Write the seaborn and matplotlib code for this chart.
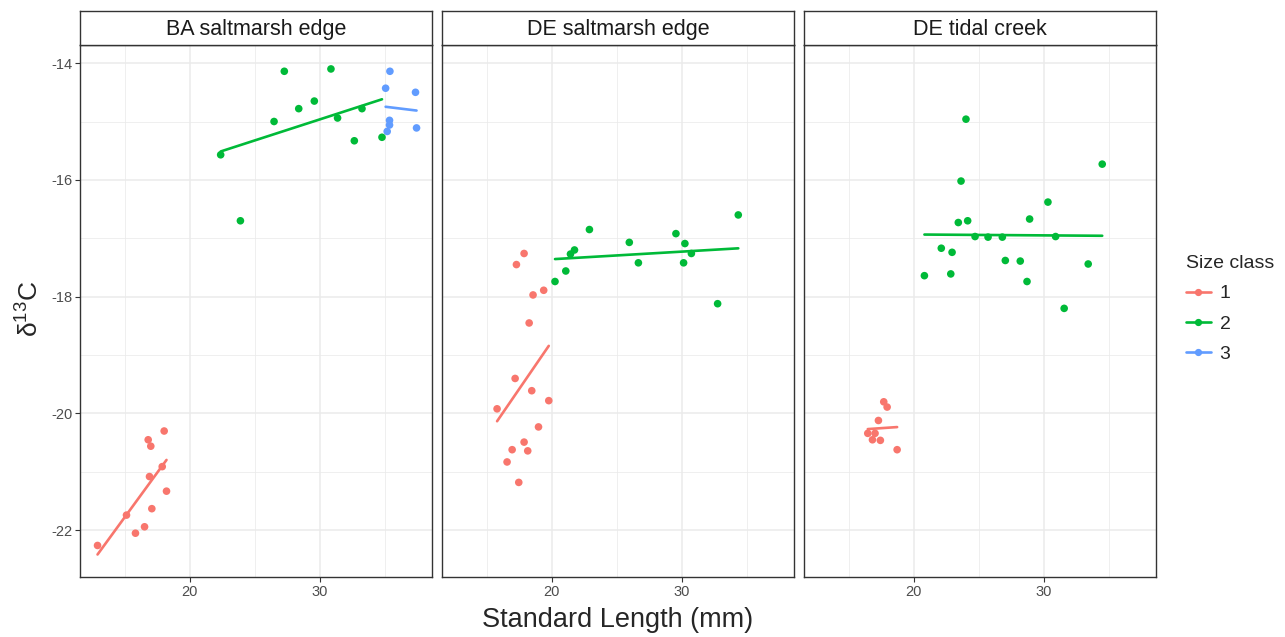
import matplotlib
matplotlib.use("Agg")
import numpy as np
import pandas as pd
import seaborn as sns
import matplotlib.pyplot as plt
from matplotlib.lines import Line2D

# Standard length (mm) and d13C by site and size class
ba_len_1 = [12.9, 15.13, 15.82, 16.52, 16.8, 17.0, 16.9, 17.08, 18.03, 17.88, 18.21]
ba_d13c_1 = [-22.26, -21.74, -22.05, -21.94, -20.45, -20.56, -21.08, -21.63, -20.30, -20.91, -21.33]
ba_len_2 = [22.38, 23.9, 26.49, 27.28, 28.39, 29.59, 30.87, 31.38, 32.67, 33.26, 34.8]
ba_d13c_2 = [-15.57, -16.70, -15.00, -14.14, -14.78, -14.65, -14.10, -14.94, -15.33, -14.78, -15.27]
ba_len_3 = [35.41, 35.08, 37.38, 35.38, 35.38, 35.2, 37.46]
ba_d13c_3 = [-14.14, -14.43, -14.50, -14.98, -15.06, -15.17, -15.11]

des_len_1 = [17.87, 17.28, 19.38, 18.56, 18.26, 17.18, 18.46, 19.77, 15.79, 18.98, 17.87, 16.95, 18.15, 16.56, 17.46]
des_d13c_1 = [-17.26, -17.45, -17.89, -17.97, -18.45, -19.40, -19.61, -19.78, -19.92, -20.23, -20.49, -20.62, -20.64, -20.83, -21.18]
des_len_2 = [22.9, 21.75, 21.44, 21.08, 20.25, 25.97, 26.67, 29.56, 30.25, 30.75, 30.15, 34.36, 32.77]
des_d13c_2 = [-16.85, -17.20, -17.27, -17.56, -17.74, -17.07, -17.42, -16.92, -17.09, -17.26, -17.42, -16.60, -18.12]

dtc_len_1 = [17.69, 17.95, 17.28, 16.46, 17.02, 16.82, 17.43, 18.72]
dtc_d13c_1 = [-19.80, -19.89, -20.12, -20.34, -20.34, -20.45, -20.46, -20.62]
dtc_len_2 = [24.02, 23.64, 34.51, 30.33, 28.92, 23.43, 24.15, 24.72, 25.72, 26.82, 30.92,
             22.12, 22.95, 27.05, 28.2, 33.43, 20.82, 22.85, 28.72, 31.58]
dtc_d13c_2 = [-14.96, -16.02, -15.73, -16.38, -16.67, -16.73, -16.70, -16.97, -16.98, -16.98, -16.97,
              -17.17, -17.24, -17.38, -17.39, -17.44, -17.64, -17.61, -17.74, -18.20]

sites = ["BA saltmarsh edge", "DE saltmarsh edge", "DE tidal creek"]
size_classes = ["1", "2", "3"]
palette = {"1": "#F8766D", "2": "#00BA38", "3": "#619CFF"}

groups = [
    (sites[0], "1", ba_len_1, ba_d13c_1),
    (sites[0], "2", ba_len_2, ba_d13c_2),
    (sites[0], "3", ba_len_3, ba_d13c_3),
    (sites[1], "1", des_len_1, des_d13c_1),
    (sites[1], "2", des_len_2, des_d13c_2),
    (sites[2], "1", dtc_len_1, dtc_d13c_1),
    (sites[2], "2", dtc_len_2, dtc_d13c_2),
]
df = pd.concat(
    [pd.DataFrame({"site": s, "size_class": c, "length": x, "d13c": y}) for s, c, x, y in groups],
    ignore_index=True,
)

sns.set_theme(style="white")
plt.rcParams["font.family"] = ["Liberation Sans", "DejaVu Sans"]
plt.rcParams["axes.unicode_minus"] = False
plt.rcParams["mathtext.fontset"] = "custom"
plt.rcParams["mathtext.rm"] = "Liberation Sans"
plt.rcParams["mathtext.it"] = "Liberation Sans:italic"

W, H = 1285, 637
fig = plt.figure(figsize=(W / 100, H / 100), dpi=100)
fig.patch.set_facecolor("white")

panel_left = [80, 442, 804]
panel_w = 352
top, bottom, strip_top = 45, 577, 11
border = "#333333"

for i, site in enumerate(sites):
    l = panel_left[i]
    ax = fig.add_axes([l / W, 1 - bottom / H, panel_w / W, (bottom - top) / H])
    ax.set_facecolor("white")
    ax.set_xlim(11.55, 38.65)
    ax.set_ylim(-22.80, -13.69)
    ax.set_xticks([20, 30])
    ax.set_xticks([15, 25, 35], minor=True)
    ax.set_yticks([-22, -20, -18, -16, -14])
    ax.set_yticks([-21, -19, -17, -15], minor=True)
    ax.grid(which="major", color="#EBEBEB", lw=1.1)
    ax.grid(which="minor", color="#EBEBEB", lw=0.55)
    ax.set_axisbelow(True)

    sub = df[df["site"] == site]
    sns.scatterplot(data=sub, x="length", y="d13c", hue="size_class", palette=palette,
                    s=30, linewidth=0, ax=ax, legend=False, zorder=3)
    for sc in size_classes:
        part = sub[sub["size_class"] == sc]
        if len(part) == 0:
            continue
        sns.regplot(data=part, x="length", y="d13c", scatter=False, ci=None, truncate=True,
                    color=palette[sc], line_kws={"lw": 1.9, "zorder": 4}, ax=ax)

    ax.set_xlabel("")
    ax.set_ylabel("")
    for sp in ax.spines.values():
        sp.set_color(border)
        sp.set_linewidth(1.0)
    ax.tick_params(which="major", direction="out", length=3.5, width=0.8, color=border,
                   labelcolor="#4D4D4D", labelsize=10.5, pad=2)
    ax.tick_params(which="minor", length=0)
    if i == 0:
        ax.tick_params(axis="y", left=True)
    else:
        ax.tick_params(axis="y", left=False, labelleft=False)
    ax.tick_params(axis="x", bottom=True)

    sax = fig.add_axes([l / W, 1 - top / H, panel_w / W, (top - strip_top) / H])
    sax.set_facecolor("white")
    sax.set_xticks([])
    sax.set_yticks([])
    for sp in sax.spines.values():
        sp.set_color(border)
        sp.set_linewidth(1.0)
    sax.text(0.5, 0.47, site, ha="center", va="center", fontsize=15.5, color="#1A1A1A",
             transform=sax.transAxes)

fig.text(618 / W, 1 - 620 / H, "Standard Length (mm)", ha="center", va="center", fontsize=19.5)
fig.text(30 / W, 1 - 309 / H, r"$\mathrm{\delta^{13}}$C", ha="center", va="center",
         rotation=90, fontsize=19)

handles = [Line2D([0], [0], color=palette[c], lw=1.9, marker="o", markersize=4.2) for c in size_classes]
leg = fig.legend(handles, size_classes, title="Size class", loc="center left",
                 bbox_to_anchor=(1168 / W, 1 - 309 / H), frameon=False, fontsize=14,
                 title_fontsize=14, handlelength=1.3, handletextpad=0.45, labelspacing=0.65,
                 alignment="left")

fig.savefig("out.png", dpi=100)
